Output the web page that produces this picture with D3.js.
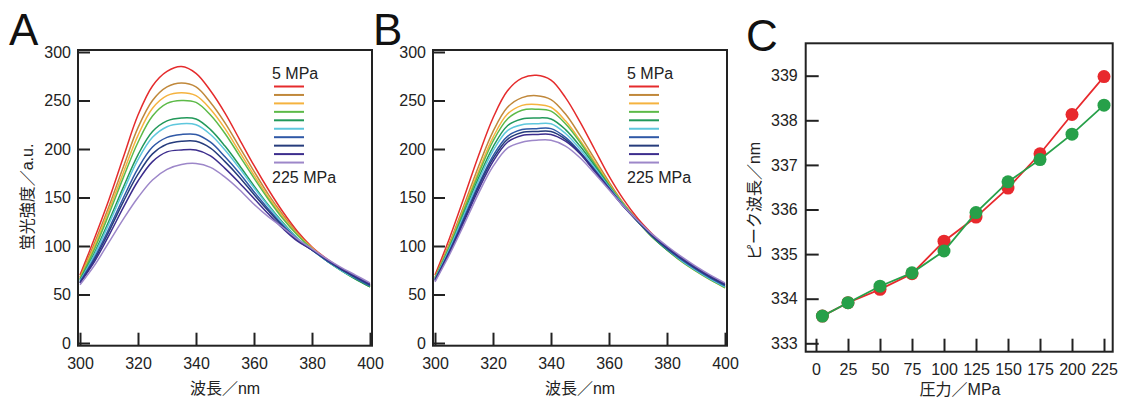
<!DOCTYPE html>
<html>
<head>
<meta charset="utf-8">
<script src="https://cdn.jsdelivr.net/npm/d3@7"></script>
<style>
  body { margin: 0; background: #fff; }
  svg { display: block; font-family: "Liberation Sans", Arial, "Noto Sans CJK JP", sans-serif; }
  .tick text { fill: #222; font-size: 16px; }
  .tick line { stroke: #222; stroke-width: 2; }
</style>
</head>
<body>
<svg id="chart" width="1123" height="399"></svg>
<script>
// wavelength grid of the spectra (nm)
const wavelengths = [300, 305, 310, 315, 320, 325, 330, 335, 340, 345, 350,
  355, 360, 365, 370, 375, 380, 385, 390, 395, 400];

// panel A spectra, 5 MPa ... 225 MPa
const spectraA = [
  [70, 108, 148, 192, 235, 265, 280, 285, 278, 260, 237, 210, 183, 158, 135, 115, 99, 87, 77, 68, 60],
  [68, 103, 141, 182, 222, 250, 264, 268, 264, 248, 227, 202, 177, 153, 132, 113, 98, 86, 76, 67, 59],
  [67, 100, 137, 176, 214, 242, 255, 258, 255, 241, 221, 197, 173, 150, 130, 112, 98, 86, 76, 67, 58],
  [66, 97, 133, 171, 207, 234, 247, 250, 248, 235, 216, 193, 170, 148, 128, 111, 97, 85, 75, 66, 58],
  [65, 93, 126, 161, 194, 218, 229, 232, 231, 220, 203, 183, 162, 142, 124, 108, 96, 85, 75, 66, 58],
  [64, 91, 123, 157, 189, 212, 223, 226, 225, 215, 199, 180, 160, 141, 123, 108, 96, 85, 75, 67, 59],
  [63, 88, 118, 150, 180, 202, 212, 215, 215, 207, 192, 175, 156, 138, 121, 107, 96, 85, 76, 67, 59],
  [62, 86, 115, 146, 174, 195, 205, 208, 208, 201, 187, 171, 153, 136, 120, 106, 96, 86, 76, 68, 60],
  [62, 84, 111, 140, 167, 187, 197, 199, 199, 193, 180, 165, 149, 133, 118, 105, 96, 86, 77, 69, 61],
  [60, 80, 104, 128, 150, 168, 179, 184, 185, 181, 171, 158, 143, 130, 119, 107, 97, 87, 78, 70, 62]
];

// panel B spectra, 5 MPa ... 225 MPa
const spectraB = [
  [70, 108, 150, 193, 232, 260, 273, 276, 271, 253, 228, 200, 172, 148, 128, 112, 98, 86, 76, 68, 60],
  [68, 103, 142, 182, 218, 243, 253, 255, 251, 236, 214, 190, 166, 144, 126, 110, 97, 85, 75, 66, 58],
  [67, 101, 139, 177, 212, 236, 245, 246, 243, 229, 209, 187, 164, 143, 125, 109, 96, 84, 74, 65, 57],
  [67, 100, 137, 174, 208, 231, 240, 241, 239, 226, 207, 185, 163, 143, 125, 109, 96, 84, 74, 65, 57],
  [66, 98, 134, 170, 202, 224, 231, 232, 231, 220, 203, 183, 162, 142, 125, 109, 96, 85, 75, 66, 58],
  [66, 97, 132, 167, 198, 219, 225, 226, 226, 216, 200, 181, 161, 142, 125, 110, 97, 85, 75, 66, 58],
  [65, 95, 129, 163, 193, 213, 220, 221, 221, 212, 197, 179, 160, 141, 125, 110, 97, 86, 76, 67, 59],
  [65, 94, 127, 161, 190, 210, 217, 218, 218, 210, 196, 178, 159, 141, 125, 110, 98, 87, 77, 68, 60],
  [64, 93, 125, 158, 187, 207, 214, 215, 215, 208, 195, 177, 159, 141, 126, 111, 99, 88, 78, 69, 61],
  [63, 91, 122, 154, 182, 201, 207, 209, 209, 203, 191, 175, 158, 141, 126, 112, 100, 89, 79, 70, 62]
];

const curveColors = ['#e52b2c', '#c0883b', '#f5b33f', '#5dba48', '#22995a',
  '#5ec7dd', '#2f58a6', '#263c7c', '#3c2d8d', '#9d87c9'];

// panel C
const pressures = [5, 25, 50, 75, 100, 125, 150, 175, 200, 225];
const peakRed = [333.61, 333.91, 334.21, 334.56, 335.29, 335.83, 336.48, 337.25, 338.13, 338.98];
const peakGreen = [333.61, 333.91, 334.28, 334.58, 335.07, 335.93, 336.62, 337.12, 337.69, 338.34];

const specTicksX = [300, 320, 340, 360, 380, 400];
const specTicksY = [0, 50, 100, 150, 200, 250, 300];
const pressTicks = [0, 25, 50, 75, 100, 125, 150, 175, 200, 225];
const peakTicks = [333, 334, 335, 336, 337, 338, 339];

const svg = d3.select('#chart');

const frame = (g, x0, y0, x1, y1) => {
  g.append('rect')
    .attr('x', x0).attr('y', y0)
    .attr('width', x1 - x0).attr('height', y1 - y0)
    .attr('fill', 'none')
    .attr('stroke', '#222')
    .attr('stroke-width', 2)
}

const drawSpectra = (left, spectra, yTitle) => {
  const g = svg.append('g')
  const box = {x0: left, x1: left + 294, y0: 50, y1: 345.7}
  const x = d3.scaleLinear().domain([300, 400]).range([left + 2, left + 292])
  const y = d3.scaleLinear().domain([0, 300]).range([343, 52])

  g.append('g')
    .attr('transform', `translate(${box.x0},0)`)
    .call(d3.axisLeft(y).tickValues(specTicksY).tickSize(-12).tickPadding(7))
    .call(s => s.select('.domain').remove())
  g.append('g')
    .attr('transform', `translate(0,${box.y1})`)
    .call(d3.axisBottom(x).tickValues(specTicksX).tickSize(-13).tickPadding(12))
    .call(s => s.select('.domain').remove())

  const line = d3.line()
    .x((d, i) => x(wavelengths[i]))
    .y(d => y(d))
    .curve(d3.curveCatmullRom)

  g.append('g')
    .selectAll('path')
    .data(spectra)
    .join('path')
    .attr('d', line)
    .attr('fill', 'none')
    .attr('stroke', (d, i) => curveColors[i])
    .attr('stroke-width', 1.5)

  frame(g, box.x0, box.y0, box.x1, box.y1)

  // legend
  const lx = left + 196
  g.append('text').attr('x', lx - 2).attr('y', 79)
    .style('font-size', '16px').attr('fill', '#222').text('5 MPa')
  g.append('g')
    .selectAll('line')
    .data(curveColors)
    .join('line')
    .attr('x1', lx).attr('x2', lx + 30)
    .attr('y1', (d, i) => 86.5 + i * 8.45)
    .attr('y2', (d, i) => 86.5 + i * 8.45)
    .attr('stroke', d => d)
    .attr('stroke-width', 2)
  g.append('text').attr('x', lx - 2).attr('y', 183)
    .style('font-size', '16px').attr('fill', '#222').text('225 MPa')

  g.append('text')
    .attr('x', (box.x0 + box.x1) / 2).attr('y', 394)
    .attr('text-anchor', 'middle')
    .style('font-size', '16px').attr('fill', '#222')
    .text('波長／nm')

  if (yTitle) {
    g.append('text')
      .attr('transform', `translate(27,197) rotate(-90)`)
      .attr('text-anchor', 'middle')
      .attr('dominant-baseline', 'central')
      .style('font-size', '16px').attr('fill', '#222')
      .text(yTitle)
  }
}

drawSpectra(78, spectraA, '蛍光強度／a.u.')
drawSpectra(433, spectraB, null)

// panel C
{
  const g = svg.append('g')
  const box = {x0: 805.7, x1: 1112.7, y0: 43.3, y1: 351.7}
  const x = d3.scaleLinear().domain([0, 225]).range([816, 1104])
  const y = d3.scaleLinear().domain([333, 339]).range([343.3, 75.7])

  g.append('g')
    .attr('transform', `translate(${box.x0},0)`)
    .call(d3.axisLeft(y).tickValues(peakTicks).tickFormat(d3.format('d')).tickSize(-13).tickPadding(8))
    .call(s => s.select('.domain').remove())
  g.append('g')
    .attr('transform', `translate(0,${box.y1})`)
    .call(d3.axisBottom(x).tickValues(pressTicks).tickSize(-13).tickPadding(12))
    .call(s => s.select('.domain').remove())

  const series = [
    {values: peakRed, color: '#e8292d'},
    {values: peakGreen, color: '#27a049'}
  ]
  const line = d3.line()
    .x((d, i) => x(pressures[i]))
    .y(d => y(d))

  series.forEach(s => {
    g.append('path')
      .attr('d', line(s.values))
      .attr('fill', 'none')
      .attr('stroke', s.color)
      .attr('stroke-width', 1.8)
    g.append('g')
      .selectAll('circle')
      .data(s.values)
      .join('circle')
      .attr('cx', (d, i) => x(pressures[i]))
      .attr('cy', d => y(d))
      .attr('r', 6.5)
      .attr('fill', s.color)
  })

  frame(g, box.x0, box.y0, box.x1, box.y1)

  g.append('text')
    .attr('x', 960).attr('y', 395)
    .attr('text-anchor', 'middle')
    .style('font-size', '16px').attr('fill', '#222')
    .text('圧力／MPa')
  g.append('text')
    .attr('transform', `translate(754,201) rotate(-90)`)
    .attr('text-anchor', 'middle')
    .attr('dominant-baseline', 'central')
    .style('font-size', '16px').attr('fill', '#222')
    .text('ピーク波長／nm')
}

// panel letters
const letters = [['A', 9, 45], ['B', 373, 45], ['C', 746, 51]]
svg.selectAll('.letter')
  .data(letters)
  .join('text')
  .attr('class', 'letter')
  .attr('x', d => d[1]).attr('y', d => d[2])
  .style('font-size', '44px')
  .attr('fill', '#111')
  .text(d => d[0])
</script>
</body>
</html>
